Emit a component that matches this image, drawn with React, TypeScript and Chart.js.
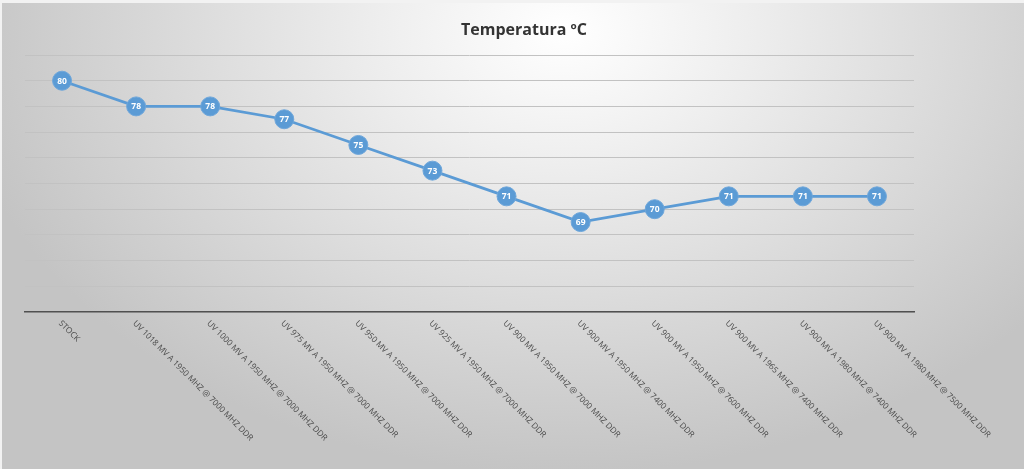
import React, { useEffect, useRef } from "react";
import { Chart, registerables } from "chart.js";

Chart.register(...registerables);

const chartTitle = "Temperatura ºC";
const categories = [
  "STOCK",
  "UV 1018 MV A 1950 MHZ @ 7000 MHZ DDR",
  "UV 1000 MV A 1950 MHZ @ 7000 MHZ DDR",
  "UV 975 MV A 1950 MHZ @ 7000 MHZ DDR",
  "UV 950 MV A 1950 MHZ @ 7000 MHZ DDR",
  "UV 925 MV A 1950 MHZ @ 7000 MHZ DDR",
  "UV 900 MV A 1950 MHZ @ 7000 MHZ DDR",
  "UV 900 MV A 1950 MHZ @ 7400 MHZ DDR",
  "UV 900 MV A 1950 MHZ @ 7600 MHZ DDR",
  "UV 900 MV A 1965 MHZ @ 7400 MHZ DDR",
  "UV 900 MV A 1980 MHZ @ 7400 MHZ DDR",
  "UV 900 MV A 1980 MHZ @ 7500 MHZ DDR",
];
const temperatures = [80, 78, 78, 77, 75, 73, 71, 69, 70, 71, 71, 71];
const yMin = 62;
const yMax = 82;
const yStep = 2;

const overlayPlugin = {
  id: "overlay",
  afterDraw(chart: any) {
    const ctx = chart.ctx;
    const xScale = chart.scales.x;
    const area = chart.chartArea;
    ctx.save();
    // title
    ctx.fillStyle = "#333333";
    ctx.font = "bold 16px 'Open Sans', sans-serif";
    ctx.textAlign = "center";
    ctx.textBaseline = "middle";
    ctx.fillText(chartTitle, 524, 30);
    // rotated category labels
    ctx.fillStyle = "#4a4a4a";
    ctx.font = "8.3px 'Open Sans', sans-serif";
    ctx.textAlign = "left";
    ctx.textBaseline = "middle";
    categories.forEach((c, i) => {
      const x = xScale.getPixelForValue(i);
      ctx.save();
      ctx.translate(x - 2, area.bottom + 10);
      ctx.rotate(Math.PI / 4);
      ctx.fillText(c, 0, 0);
      ctx.restore();
    });
    // data labels
    const meta = chart.getDatasetMeta(0);
    ctx.fillStyle = "#ffffff";
    ctx.font = "bold 8.5px 'Open Sans', sans-serif";
    ctx.textAlign = "center";
    ctx.textBaseline = "middle";
    meta.data.forEach((pt: any, i: number) => {
      ctx.fillText(String(temperatures[i]), pt.x, pt.y + 0.5);
    });
    ctx.restore();
  },
};

export default function App() {
  const ref = useRef<HTMLCanvasElement>(null);
  useEffect(() => {
    if (!ref.current) return;
    const chart = new Chart(ref.current, {
      type: "line",
      data: {
        labels: categories,
        datasets: [
          {
            data: temperatures,
            borderColor: "#5B9BD5",
            backgroundColor: "#5B9BD5",
            borderWidth: 2.75,
            pointRadius: 9.5,
            pointHoverRadius: 9.5,
            pointBackgroundColor: "#5B9BD5",
            pointBorderColor: "#6ea6da",
            pointBorderWidth: 1,
            tension: 0,
          },
        ],
      },
      options: {
        animation: false,
        responsive: false,
        maintainAspectRatio: false,
        layout: { padding: { left: 25, right: 110, top: 55, bottom: 157 } },
        plugins: {
          legend: { display: false },
          title: { display: false },
          tooltip: { enabled: false },
        },
        scales: {
          x: {
            offset: true,
            grid: { display: false, drawTicks: false },
            ticks: { display: false },
            border: { display: true, color: "#505050", width: 1.5 },
          },
          y: {
            min: yMin,
            max: yMax,
            ticks: { display: false, stepSize: yStep },
            grid: { color: "#c2c2c2", lineWidth: 1, drawTicks: false },
            border: { display: false },
          },
        },
      },
      plugins: [overlayPlugin],
    });
    return () => chart.destroy();
  }, []);
  return (
    <div
      style={{
        position: "absolute",
        left: 0,
        top: 0,
        width: 1024,
        height: 469,
        boxSizing: "border-box",
        borderTop: "3px solid #f2f2f2",
        borderLeft: "2px solid #f2f2f2",
        background:
          "radial-gradient(ellipse 60% 95% at 55% 6%, #ffffff 0%, #eeeeee 30%, #d9d9d9 65%, #c4c4c4 100%)",
      }}
    >
      <canvas ref={ref} width={1024} height={469} style={{ position: "absolute", left: -2, top: -3 }} />
    </div>
  );
}
